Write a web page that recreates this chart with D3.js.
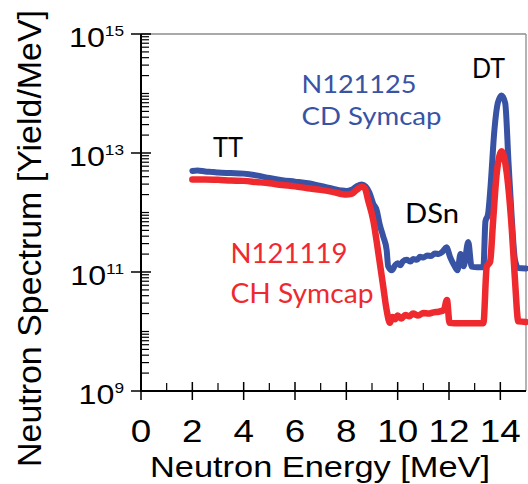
<!DOCTYPE html>
<html>
<head>
<meta charset="utf-8">
<script src="https://cdn.jsdelivr.net/npm/d3@7"></script>
<style>
  html, body { margin: 0; padding: 0; background: #fff; }
  svg { display: block; }
</style>
</head>
<body>
<svg id="chart" width="528" height="484"></svg>
<script>
// ---- data ----
const energyCD = [2.0,2.2,2.5,2.8,3.0,3.5,4.0,4.5,5.0,5.5,6.0,6.5,7.0,7.5,7.8,8.0,8.2,8.4,8.6,8.75,8.9,9.05,9.18,9.3,9.44,9.57,9.63,9.77,9.9,10.0,10.1,10.2,10.35,10.5,10.6,10.75,10.87,11.0,11.15,11.3,11.45,11.6,11.75,11.9,12.04,12.2,12.33,12.45,12.57,12.75,12.88,13.1,13.34,13.42,13.52,13.62,13.77,13.9,14.05,14.19,14.32,14.45,14.57,14.7,15.0];
const yieldCD = [5.0e12,5.1e12,4.9e12,4.8e12,4.7e12,4.6e12,4.5e12,4.2e12,3.8e12,3.5e12,3.3e12,3.1e12,2.8e12,2.5e12,2.35e12,2.3e12,2.4e12,2.75e12,2.95e12,2.75e12,2.15e12,1.4e12,1.1e12,6.3e11,3.9e11,2.35e11,1.25e11,1.07e11,1.3e11,1.4e11,1.3e11,1.5e11,1.6e11,1.5e11,1.65e11,1.6e11,1.8e11,1.75e11,1.9e11,1.85e11,2.05e11,2.0e11,2.2e11,2.6e11,1.8e11,1.3e11,1.07e11,2.0e11,1.25e11,3.2e11,1.23e11,1.2e11,1.2e11,7.1e11,9.3e11,2.8e12,2.45e13,6.9e13,9.3e13,6.9e13,6.8e12,7.4e11,1.6e11,1.17e11,1.15e11];

const energyCH = [2.0,2.5,3.0,3.5,4.0,4.5,5.0,5.5,6.0,6.5,7.0,7.5,7.8,8.0,8.2,8.4,8.6,8.72,8.85,9.05,9.25,9.44,9.57,9.7,9.8,9.9,10.0,10.15,10.3,10.45,10.6,10.8,11.0,11.2,11.4,11.6,11.8,11.92,12.02,12.2,13.34,13.47,13.6,13.72,13.86,14.05,14.25,14.45,14.57,14.7,15.0];
const yieldCH = [3.6e12,3.6e12,3.55e12,3.45e12,3.4e12,3.25e12,3.1e12,2.9e12,2.75e12,2.55e12,2.4e12,2.2e12,2.05e12,2.0e12,2.05e12,2.4e12,2.7e12,2.55e12,1.6e12,7.4e11,2.05e11,5.6e10,2.3e10,1.4e10,1.75e10,1.6e10,1.85e10,1.65e10,1.9e10,1.8e10,2.0e10,1.85e10,2.05e10,2.0e10,2.1e10,2.15e10,2.3e10,3.4e10,1.4e10,1.38e10,1.38e10,1.23e11,1.48e11,7.4e11,4.6e12,1.07e13,4.6e12,5.0e11,7.4e10,1.48e10,1.45e10];

const xMajorTicks = [0,2,4,6,8,10,12,14];
const xMinorTicks = [1,3,5,7,9,11,13];
const yExponents = [9,11,13,15];
const xTickLabels = ["0","2","4","6","8","10","12","14"];

const seriesNames = ["N121125","CD Symcap","N121119","CH Symcap"];
const peakNames = ["TT","DSn","DT"];
const xTitle = "Neutron Energy [MeV]";
const yTitle = "Neutron Spectrum [Yield/MeV]";

// ---- layout ----
const svg = d3.select("#chart");
const L = 141, R = 526, T = 34, B = 391;
const x = d3.scaleLinear().domain([0, 15]).range([L, R]);
const y = d3.scaleLog().domain([1e9, 1e15]).range([B, T]);

const blue = "#3953a4", red = "#ee2a2f";
const tickFont = "'Liberation Sans', Arial, sans-serif";
const labelFont = "Lato, 'Open Sans', sans-serif";

// frame (grey top & right)
svg.append("line").attr("x1", L).attr("x2", R).attr("y1", T).attr("y2", T)
  .attr("stroke", "#8c8c8c").attr("stroke-width", 1.3);
svg.append("line").attr("x1", R).attr("x2", R).attr("y1", T).attr("y2", B)
  .attr("stroke", "#8c8c8c").attr("stroke-width", 1.3);

// curves
const line = (ex, ys) => d3.line()
  .x((d, i) => x(ex[i])).y(d => y(d))
  .curve(d3.curveMonotoneX)(ys);

svg.append("path").attr("d", line(energyCD, yieldCD))
  .attr("fill", "none").attr("stroke", blue).attr("stroke-width", 6)
  .attr("stroke-linejoin", "round").attr("stroke-linecap", "round");
svg.append("path").attr("d", line(energyCH, yieldCH))
  .attr("fill", "none").attr("stroke", red).attr("stroke-width", 6.5)
  .attr("stroke-linejoin", "round").attr("stroke-linecap", "round");

// axes
const ax = svg.append("g").attr("stroke", "#000");
ax.append("line").attr("x1", L).attr("x2", L).attr("y1", T).attr("y2", B + 1).attr("stroke-width", 2);
ax.append("line").attr("x1", L - 1).attr("x2", R).attr("y1", B).attr("y2", B).attr("stroke-width", 2);

// y major ticks (crossing) and minor ticks (inside)
yExponents.forEach(e => {
  const v = Math.pow(10, e);
  ax.append("line").attr("x1", L - 10).attr("x2", L + 10)
    .attr("y1", y(v)).attr("y2", y(v)).attr("stroke-width", 1.5);
});
const yMinor = [];
for (let e = 9; e < 15; e++) {
  for (let m = 2; m <= 9; m++) yMinor.push(m * Math.pow(10, e));
  if (e % 2 === 0) yMinor.push(Math.pow(10, e));
}
yMinor.forEach(v => {
  ax.append("line").attr("x1", L).attr("x2", L + 8)
    .attr("y1", y(v)).attr("y2", y(v)).attr("stroke-width", 1.2);
});

// x ticks
xMajorTicks.forEach(v => {
  ax.append("line").attr("x1", x(v)).attr("x2", x(v))
    .attr("y1", B - 9).attr("y2", B + 9).attr("stroke-width", 1.5);
});
xMinorTicks.forEach(v => {
  ax.append("line").attr("x1", x(v)).attr("x2", x(v))
    .attr("y1", B - 8).attr("y2", B).attr("stroke-width", 1.2);
});

// x tick labels
xMajorTicks.forEach((v, i) => {
  svg.append("text")
    .attr("transform", `translate(${x(v)},442) scale(1.15,1)`)
    .attr("text-anchor", "middle")
    .attr("font-family", tickFont).attr("font-size", 32)
    .attr("fill", "#000").text(xTickLabels[i]);
});

// y tick labels (10^n)
yExponents.forEach(e => {
  const ty = y(Math.pow(10, e));
  const t = svg.append("text")
    .attr("transform", `translate(124,${ty + 13}) scale(1.15,1)`)
    .attr("text-anchor", "end")
    .attr("font-family", tickFont).attr("fill", "#000");
  t.append("tspan").attr("font-size", 28).text("10");
  t.append("tspan").attr("font-size", 15).attr("dy", -11.5).text(String(e));
});

// axis titles
svg.append("text")
  .attr("x", 320).attr("y", 476.5).attr("text-anchor", "middle")
  .attr("font-family", tickFont).attr("font-size", 30)
  .attr("textLength", 340).attr("lengthAdjust", "spacingAndGlyphs")
  .text(xTitle);
svg.append("text")
  .attr("transform", "translate(41,238.5) rotate(-90)")
  .attr("text-anchor", "middle")
  .attr("font-family", tickFont).attr("font-size", 33.5)
  .attr("textLength", 457).attr("lengthAdjust", "spacingAndGlyphs")
  .text(yTitle);

// annotation labels
function label(txt, x0, base, size, width, color) {
  svg.append("text").attr("x", x0).attr("y", base)
    .attr("font-family", labelFont).attr("font-size", size)
    .attr("fill", color)
    .attr("textLength", width).attr("lengthAdjust", "spacingAndGlyphs")
    .text(txt);
}
label(seriesNames[0], 301.5, 93.3, 25.5, 115, blue);
label(seriesNames[1], 301.5, 125, 25.5, 140, blue);
label(seriesNames[2], 230.5, 263.3, 26, 117, red);
label(seriesNames[3], 230.5, 303, 26, 143, red);
label(peakNames[0], 213, 157, 26, 30, "#000");
label(peakNames[1], 405, 223.3, 26, 54, "#000");
label(peakNames[2], 472, 78, 26, 33, "#000");
</script>
</body>
</html>
